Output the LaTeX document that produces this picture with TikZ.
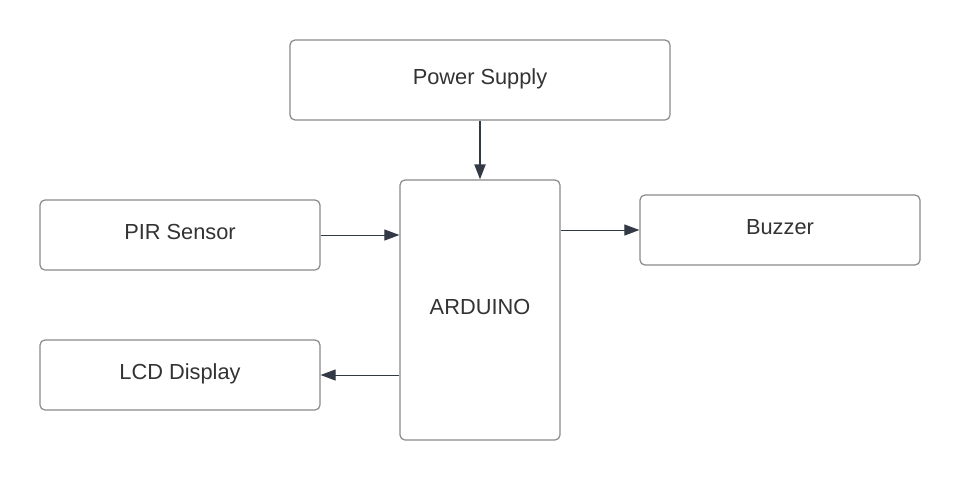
\documentclass[tikz,border=0pt]{standalone}
\usepackage{fontspec}
\setmainfont{Liberation Sans}
\usetikzlibrary{arrows.meta}
\definecolor{boxline}{HTML}{8A8A8A}
\definecolor{arrowc}{HTML}{333A45}
\definecolor{txt}{HTML}{333333}
\begin{document}
\begin{tikzpicture}[x=1pt,y=-1pt,
  blk/.style={draw=boxline,line width=1.2pt,rounded corners=5pt,inner sep=0pt,
    text=txt,font=\fontsize{21.8}{24}\selectfont,text height=16pt,text depth=8pt},
  conn/.style={draw=arrowc,line width=1pt,-{Triangle[length=15pt,width=11pt]}}]
\useasboundingbox (0,0) rectangle (960,480);
\fill[white] (0,0) rectangle (960,480);
\node[blk,minimum width=380pt,minimum height=80pt] (ps) at (480,80) {Power Supply};
\node[blk,minimum width=160pt,minimum height=260pt] (ard) at (480,310) {ARDUINO};
\node[blk,minimum width=280pt,minimum height=70pt] (pir) at (180,235) {PIR Sensor};
\node[blk,minimum width=280pt,minimum height=70pt] (lcd) at (180,375) {LCD Display};
\node[blk,minimum width=280pt,minimum height=70pt] (buz) at (780,230) {Buzzer};
\draw[conn,line width=2pt] (ps.south) -- (ard.north);
\draw[conn] (pir.east) -- (ard.west |- pir.east);
\draw[conn] (ard.east |- buz.west) -- (buz.west);
\draw[conn] (ard.west |- lcd.east) -- (lcd.east);
\end{tikzpicture}
\end{document}
